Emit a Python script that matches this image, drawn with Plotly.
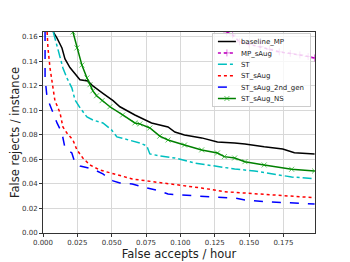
import plotly.graph_objects as go

# ---- data ----
base_x = [0.0075, 0.0102, 0.0138, 0.016, 0.0196, 0.0247, 0.0269, 0.0327, 0.0363, 0.0436, 0.051, 0.056, 0.0669, 0.079, 0.091, 0.096, 0.103, 0.1155, 0.127, 0.1395, 0.147, 0.161, 0.1745, 0.183, 0.1977]
base_y = [0.164, 0.159, 0.151, 0.142, 0.135, 0.128, 0.125, 0.124, 0.120, 0.114, 0.108, 0.103, 0.0963, 0.0898, 0.0865, 0.0824, 0.080, 0.0776, 0.0743, 0.0735, 0.0727, 0.0704, 0.0686, 0.0655, 0.0645]

mp_x = [0.1337, 0.138, 0.143, 0.150, 0.158, 0.165, 0.172, 0.180, 0.187, 0.193, 0.1977]
mp_y = [0.164, 0.1616, 0.156, 0.154, 0.152, 0.150, 0.1478, 0.1465, 0.1453, 0.144, 0.1428]

st_x = [0.0075, 0.0087, 0.0109, 0.0124, 0.0145, 0.0174, 0.021, 0.0233, 0.027, 0.032, 0.0363, 0.0436, 0.050, 0.0538, 0.063, 0.0705, 0.0756, 0.0778, 0.085, 0.096, 0.1105, 0.125, 0.1395, 0.154, 0.1686, 0.181, 0.1977]
st_y = [0.164, 0.159, 0.151, 0.143, 0.1347, 0.1265, 0.1184, 0.1086, 0.102, 0.0947, 0.0922, 0.0898, 0.084, 0.0784, 0.0759, 0.0735, 0.071, 0.0645, 0.0629, 0.0612, 0.0571, 0.0547, 0.0522, 0.0506, 0.0482, 0.0457, 0.0443]

sa_x = [0.003, 0.0036, 0.0051, 0.0073, 0.0087, 0.0102, 0.0124, 0.0145, 0.0174, 0.0218, 0.0247, 0.029, 0.0342, 0.0414, 0.0487, 0.065, 0.0756, 0.0945, 0.1155, 0.132, 0.147, 0.161, 0.181, 0.1977]
sa_y = [0.164, 0.151, 0.1347, 0.1184, 0.1078, 0.1040, 0.098, 0.0865, 0.0816, 0.0759, 0.0678, 0.0612, 0.0555, 0.0514, 0.049, 0.0441, 0.0425, 0.040, 0.0367, 0.0337, 0.0326, 0.031, 0.0296, 0.0288]

g2_x = [0.0015, 0.0015, 0.0015, 0.003, 0.0036, 0.0065, 0.0102, 0.0138, 0.016, 0.021, 0.0233, 0.027, 0.0363, 0.0436, 0.051, 0.056, 0.065, 0.0756, 0.085, 0.091, 0.108, 0.123, 0.1395, 0.147, 0.161, 0.181, 0.1977]
g2_y = [0.164, 0.151, 0.1265, 0.110, 0.1086, 0.1004, 0.0898, 0.0816, 0.0694, 0.0653, 0.0571, 0.0547, 0.0522, 0.0482, 0.0425, 0.0408, 0.040, 0.0367, 0.0343, 0.0318, 0.0302, 0.0294, 0.0286, 0.0269, 0.0256, 0.0247, 0.0237]

ns_x = [0.0218, 0.0247, 0.0283, 0.032, 0.0342, 0.0363, 0.039, 0.043, 0.0487, 0.058, 0.0669, 0.0705, 0.0778, 0.085, 0.091, 0.103, 0.1155, 0.127, 0.132, 0.1395, 0.147, 0.161, 0.181, 0.1977]
ns_y = [0.164, 0.151, 0.137, 0.1265, 0.121, 0.116, 0.112, 0.108, 0.103, 0.0963, 0.0898, 0.0890, 0.0857, 0.0790, 0.0759, 0.0718, 0.0678, 0.0653, 0.0623, 0.0612, 0.0582, 0.0555, 0.052, 0.0506]

x_ticks = [0.0, 0.025, 0.05, 0.075, 0.1, 0.125, 0.15, 0.175]
x_tick_labels = ["0.000", "0.025", "0.050", "0.075", "0.100", "0.125", "0.150", "0.175"]
y_ticks = [0.0, 0.02, 0.04, 0.06, 0.08, 0.10, 0.12, 0.14, 0.16]
y_tick_labels = ["0.00", "0.02", "0.04", "0.06", "0.08", "0.10", "0.12", "0.14", "0.16"]

fig = go.Figure()
fig.add_trace(go.Scatter(x=base_x, y=base_y, name="baseline_MP", mode="lines",
                         line=dict(color="black", width=1.5)))
fig.add_trace(go.Scatter(x=mp_x, y=mp_y, name="MP_sAug", mode="lines+markers",
                         line=dict(color="#bf00bf", width=1.5, dash="dot"),
                         marker=dict(symbol="cross-thin", size=5, line=dict(color="rgba(191,0,191,0.5)", width=1))))
fig.add_trace(go.Scatter(x=st_x, y=st_y, name="ST", mode="lines",
                         line=dict(color="#00bfbf", width=1.5, dash="dashdot")))
fig.add_trace(go.Scatter(x=sa_x, y=sa_y, name="ST_sAug", mode="lines",
                         line=dict(color="red", width=1.5, dash="dot")))
fig.add_trace(go.Scatter(x=g2_x, y=g2_y, name="ST_sAug_2nd_gen", mode="lines",
                         line=dict(color="blue", width=1.5, dash="dash")))
fig.add_trace(go.Scatter(x=ns_x, y=ns_y, name="ST_sAug_NS", mode="lines+markers",
                         line=dict(color="green", width=1.5),
                         marker=dict(symbol="x-thin", size=5, line=dict(color="rgba(0,160,0,0.6)", width=1))))

axis_common = dict(showline=True, linecolor="#333333", linewidth=1, mirror=True,
                   showgrid=True, gridcolor="#d8d8d8", gridwidth=1, zeroline=False,
                   ticks="outside", ticklen=3, tickcolor="#333333", automargin=False,
                   tickfont=dict(family="DejaVu Sans", size=7, color="#333333"))

fig.update_xaxes(range=[0, 0.198], tickvals=x_ticks, ticktext=x_tick_labels,
                 title=dict(text="False accepts / hour", font=dict(family="DejaVu Sans", size=11.5, color="#222222"), standoff=2),
                 **axis_common)
fig.update_yaxes(range=[0, 0.164], tickvals=y_ticks, ticktext=y_tick_labels,
                 title=dict(text="False rejects / instance", font=dict(family="DejaVu Sans", size=11.5, color="#222222"), standoff=4),
                 **axis_common)

# page body has an 8px margin: size the figure so the plot area lands where the reference's does
fig.update_layout(
    width=342, height=254,
    margin=dict(l=35, r=35, t=24, b=29),
    paper_bgcolor="white", plot_bgcolor="white",
    legend=dict(x=0.985, y=0.995, xanchor="right", yanchor="top",
                bgcolor="rgba(255,255,255,0.8)", bordercolor="#cccccc", borderwidth=1,
                font=dict(family="DejaVu Sans", size=7, color="#222222"),
                tracegroupgap=0, itemwidth=30),
    showlegend=True,
)

# compact legend (matplotlib-like row spacing and short line samples)
post_js = """
var gd = document.getElementById('{plot_id}');
function tighten(){
  var leg = gd.querySelector('.legend');
  if(!leg || leg.getAttribute('data-tight')) return;
  leg.setAttribute('data-tight', '1');
  var traces = leg.querySelectorAll('.traces');
  var step = 11.4, first = 8.5, shrink = 12;
  traces.forEach(function(t, i){
    var tr = t.getAttribute('transform') || '';
    var m = /translate\\(([^,\\s]+)[,\\s]+([^)]+)\\)/.exec(tr);
    var x = m ? m[1] : 0;
    t.setAttribute('transform', 'translate(' + x + ',' + (first + i*step) + ')');
    t.querySelectorAll('path.js-line').forEach(function(p){ p.setAttribute('d', 'M5,0h18'); });
    t.querySelectorAll('path.scatterpts').forEach(function(p){ p.setAttribute('transform', 'translate(14,0)'); });
    t.querySelectorAll('text.legendtext').forEach(function(tx){ tx.setAttribute('x', 40 - shrink); });
  });
  var bg = leg.querySelector('rect.bg');
  if(bg){
    bg.setAttribute('height', first + (traces.length-1)*step + 7.5);
    var w = parseFloat(bg.getAttribute('width'));
    bg.setAttribute('width', w - shrink);
  }
  var lt = leg.getAttribute('transform') || '';
  var mm = /translate\\(([^,\\s]+)[,\\s]+([^)]+)\\)/.exec(lt);
  if(mm){ leg.setAttribute('transform', 'translate(' + (parseFloat(mm[1]) + shrink) + ',' + mm[2] + ')'); }
}
tighten();
gd.on('plotly_afterplot', function(){ var l = gd.querySelector('.legend'); if(l) l.removeAttribute('data-tight'); tighten(); });
"""

fig.write_html("out.html", post_script=post_js)
